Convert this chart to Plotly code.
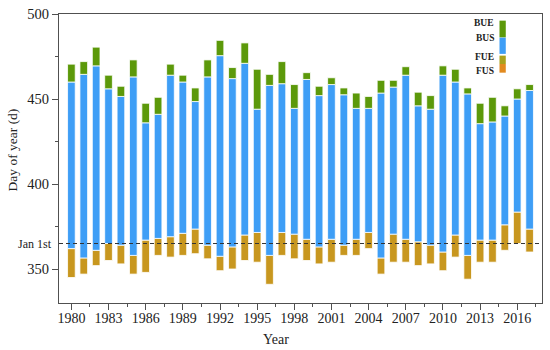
import plotly.graph_objects as go

years = list(range(1980, 2018))
# day of year (values > 365 fall in the following calendar year)
FUS = [345, 347, 352, 355, 353, 347, 348, 358, 357, 358, 359, 356, 349, 350, 355, 354, 341, 358, 356,
       355, 353, 354, 358, 358, 362, 347, 354, 354, 352, 353, 349, 357, 344, 354, 354, 361, 365, 360]
FUE = [362, 356.5, 361, 365, 364, 358, 367, 368, 369, 371, 373.5, 364, 357.5, 363, 370, 371.5, 358, 371.5, 370.5,
       367.5, 363, 367.5, 364, 367.5, 371.5, 356.5, 370.5, 367.5, 366, 364, 360, 370, 358, 367, 367, 376, 383.5, 373.5]
BUS = [460, 464.5, 469.5, 456, 451.5, 463, 436, 441, 464, 460, 448.5, 463, 475.5, 462, 471, 444, 458, 459, 444.5,
       461.5, 452, 458.5, 452.5, 444.5, 444.5, 453.5, 457, 464, 446, 444, 464, 460, 453, 435.5, 436.5, 440, 450, 455]
BUE = [470.5, 472, 480.5, 464, 457.5, 473, 447.5, 451, 470.5, 464, 456.5, 473, 484.5, 468.5, 483, 467.5, 464.5, 472, 458.5,
       465.5, 457.5, 462.5, 456.5, 453.5, 451.5, 461, 461, 469, 454, 452, 469.5, 467.5, 456.5, 447.5, 451, 446, 456, 458.5]

legend_labels = ["BUE", "BUS", "FUE", "FUS"]
col_bue = "#5C990A"
col_bus = "#3E9EF6"
col_fue = "#A9A21E"
col_fus = "#E28A1F"
col_band = "#C8971F"

FONT = "Liberation Serif"
bw = 0.62
edge = dict(color="white", width=0.8)

fig = go.Figure()
fig.add_trace(go.Bar(x=years, y=[e - s for s, e in zip(FUS, FUE)], base=FUS, width=bw,
                     marker=dict(color=col_band, line=edge), name="FUS–FUE"))
fig.add_trace(go.Bar(x=years, y=[e - s for s, e in zip(FUE, BUS)], base=FUE, width=bw,
                     marker=dict(color=col_bus, line=edge), name="FUE–BUS"))
fig.add_trace(go.Bar(x=years, y=[e - s for s, e in zip(BUS, BUE)], base=BUS, width=bw,
                     marker=dict(color=col_bue, line=edge), name="BUS–BUE"))

fig.update_layout(
    width=550, height=350, barmode="overlay", showlegend=False,
    margin=dict(l=59, r=8, t=14, b=47, autoexpand=False),
    paper_bgcolor="white", plot_bgcolor="white",
    font=dict(family=FONT, color="#222"),
)
fig.update_xaxes(range=[1979, 2018], tick0=1980, dtick=3, ticks="outside", ticklen=6,
                 tickwidth=1.2, tickcolor="#505050", automargin=False, ticklabelstandoff=-4,
                 minor=dict(tick0=1980, dtick=1.5, ticks="outside", ticklen=3, tickcolor="#505050"),
                 showline=True, linecolor="#505050", linewidth=1.3, mirror=True,
                 showgrid=False, zeroline=False, tickfont=dict(family=FONT, size=14, color="#222"))
fig.update_yaxes(range=[330, 500], tick0=350, dtick=50, ticks="outside", ticklen=6,
                 tickwidth=1.2, tickcolor="#505050", automargin=False,
                 minor=dict(tick0=325, dtick=25, ticks="outside", ticklen=3, tickcolor="#505050"),
                 showline=True, linecolor="#505050", linewidth=1.3, mirror=True,
                 showgrid=False, zeroline=False, tickfont=dict(family=FONT, size=14.5, color="#222"))

# Jan 1st reference line
fig.add_shape(type="line", xref="paper", x0=0, x1=1, yref="y", y0=365, y1=365,
              line=dict(color="#333", width=1, dash="4px,3px"), layer="above")
fig.add_annotation(text="Jan 1st", xref="paper", x=-0.011, yref="y", y=365,
                   xanchor="right", yanchor="middle",
                   showarrow=False, font=dict(family=FONT, size=12, color="#222"))

# axis titles
fig.add_annotation(text="Year", xref="paper", x=0.45, yref="paper", y=-0.125,
                   xanchor="center", yanchor="middle", showarrow=False,
                   font=dict(family=FONT, size=14, color="#222"))
fig.add_annotation(text="Day of year (d)", xref="paper", x=-0.096, yref="paper", y=0.53,
                   xanchor="center", yanchor="middle",
                   textangle=-90, showarrow=False, font=dict(family=FONT, size=13.5, color="#222"))

# custom legend (labels left, stacked swatch right)
sw = [(col_bue, 0.977, 0.919), (col_bus, 0.918, 0.862), (col_fue, 0.856, 0.827), (col_fus, 0.827, 0.797)]
for c, y1, y0 in sw:
    fig.add_shape(type="rect", xref="paper", yref="paper", x0=0.912, x1=0.925, y0=y0, y1=y1,
                  fillcolor=c, line=dict(width=0))
for lab, yy in zip(legend_labels, [0.969, 0.917, 0.851, 0.803]):
    fig.add_annotation(text=lab, xref="paper", yref="paper", x=0.905, y=yy,
                       xanchor="right", yanchor="middle",
                       showarrow=False, font=dict(family=FONT, size=9.5, color="#222", weight="bold"))

fig.write_html("out.html", config={"displayModeBar": False},
               post_script="document.body.style.margin='0px';")
